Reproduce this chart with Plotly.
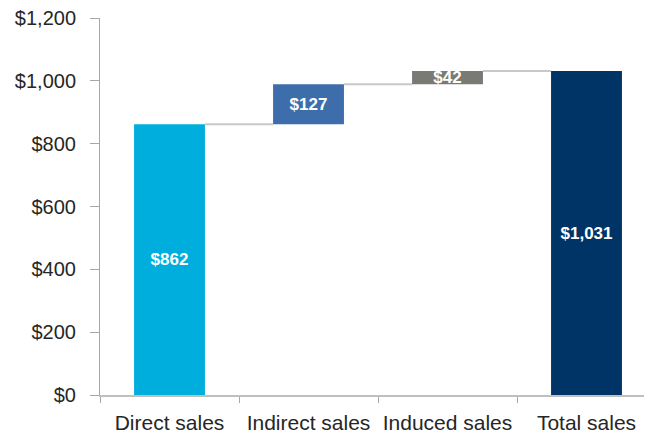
import plotly.graph_objects as go

categories = ["Direct sales", "Indirect sales", "Induced sales", "Total sales"]
values = [862, 127, 42, 1031]
measures = ["absolute", "relative", "relative", "total"]
labels = ["$862", "$127", "$42", "$1,031"]
colors = ["#00AEDD", "#3E6DAC", "#7A7A74", "#003366"]
tick_vals = [0, 200, 400, 600, 800, 1000, 1200]
tick_text = ["$0", "$200", "$400", "$600", "$800", "$1,000", "$1,200"]

# compute bases and running totals
bases, tops = [], []
running = 0
for v, m in zip(values, measures):
    if m == "absolute":
        base = 0
        running = v
    elif m == "relative":
        base = running
        running += v
    else:
        base = 0
    bases.append(base)
    tops.append(running)

bar_w = 0.51

fig = go.Figure()
fig.add_trace(go.Bar(
    x=categories, y=values, base=bases, width=bar_w,
    marker=dict(color=colors, line=dict(width=0)),
    text=labels, textposition="inside", insidetextanchor="middle",
    textfont=dict(family="Liberation Sans, Arial, sans-serif", size=17, color="white", weight="bold"),
    cliponaxis=False, hoverinfo="skip",
))

shapes = []
for i in range(len(categories) - 1):
    shapes.append(dict(
        type="line", xref="x", yref="y",
        x0=i + bar_w / 2, x1=i + 1 - bar_w / 2,
        y0=tops[i], y1=tops[i],
        line=dict(color="#C8C8C8", width=2), layer="below",
    ))

fig.update_layout(
    width=648, height=425,
    margin=dict(l=92, r=0, t=10, b=38, autoexpand=False),
    paper_bgcolor="white", plot_bgcolor="white",
    showlegend=False,
    shapes=shapes,
    uniformtext=dict(minsize=17, mode="show"),
    font=dict(family="Liberation Sans, Arial, sans-serif", color="#333333"),
    xaxis=dict(
        range=[-0.5, 3.5], showline=True, linecolor="#BFBFBF", linewidth=1.5,
        ticks="outside", tickson="boundaries", ticklen=6, tickcolor="#A6A6A6",
        tickfont=dict(size=21, color="#262626"), showgrid=False, zeroline=False,
        ticklabelstandoff=8, tickangle=0, automargin=False,
    ),
    yaxis=dict(
        range=[0, 1200], tickvals=tick_vals, ticktext=tick_text,
        showline=True, linecolor="#A6A6A6", linewidth=1,
        ticks="outside", ticklen=9, tickcolor="#A6A6A6",
        tickfont=dict(size=20, color="#262626"), showgrid=False, zeroline=False,
        ticklabelstandoff=10, automargin=False, ticklabeloverflow="allow",
    ),
)

fig.write_html("out.html")
